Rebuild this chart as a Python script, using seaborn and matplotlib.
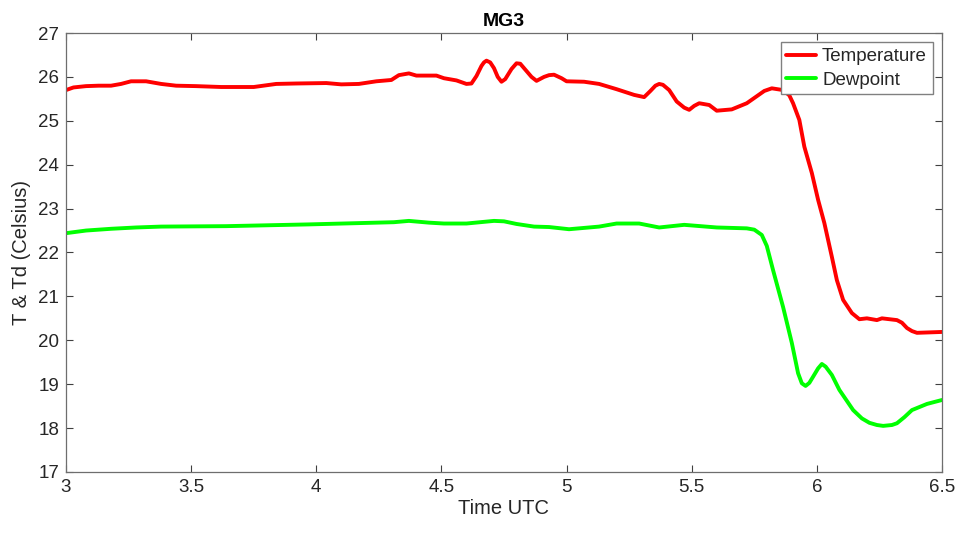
import matplotlib
matplotlib.use("Agg")
import matplotlib.pyplot as plt
import seaborn as sns
import pandas as pd

# Temperature trace (time in hours UTC, degrees Celsius)
temp_time = [3.00, 3.03, 3.08, 3.13, 3.18, 3.22, 3.26, 3.32, 3.38, 3.44, 3.52, 3.62,
             3.70, 3.75, 3.84, 3.92, 4.04, 4.10, 4.17, 4.24, 4.30, 4.33, 4.37, 4.40,
             4.48, 4.51, 4.56, 4.60, 4.62, 4.64, 4.66, 4.67, 4.68, 4.695, 4.71, 4.725,
             4.74, 4.755, 4.78, 4.80, 4.815, 4.83, 4.86, 4.88, 4.91, 4.93, 4.95, 4.98,
             5.00, 5.07, 5.13, 5.20, 5.27, 5.31, 5.335, 5.355, 5.37, 5.385, 5.41, 5.44,
             5.47, 5.49, 5.51, 5.53, 5.57, 5.60, 5.66, 5.72, 5.76, 5.79, 5.82, 5.865,
             5.89, 5.905, 5.93, 5.95, 5.98, 6.005, 6.03, 6.06, 6.08, 6.105, 6.14, 6.17,
             6.20, 6.24, 6.26, 6.32, 6.34, 6.36, 6.38, 6.40, 6.50]
temp_vals = [25.70, 25.76, 25.79, 25.80, 25.80, 25.84, 25.90, 25.90, 25.84, 25.80, 25.79, 25.77,
             25.77, 25.77, 25.84, 25.85, 25.86, 25.83, 25.84, 25.90, 25.93, 26.04, 26.08, 26.03,
             26.03, 25.97, 25.92, 25.84, 25.85, 26.02, 26.25, 26.33, 26.37, 26.33, 26.20, 26.00,
             25.89, 25.95, 26.18, 26.31, 26.30, 26.20, 26.00, 25.91, 26.00, 26.04, 26.05, 25.97,
             25.90, 25.89, 25.84, 25.72, 25.59, 25.54, 25.68, 25.80, 25.84, 25.82, 25.70, 25.44,
             25.30, 25.25, 25.34, 25.40, 25.36, 25.23, 25.26, 25.40, 25.56, 25.68, 25.74, 25.70,
             25.58, 25.40, 25.02, 24.41, 23.81, 23.20, 22.67, 21.90, 21.37, 20.92, 20.62, 20.48,
             20.50, 20.46, 20.50, 20.46, 20.40, 20.28, 20.21, 20.17, 20.19]

# Dewpoint trace
dew_time = [3.00, 3.08, 3.18, 3.28, 3.38, 3.64, 3.97, 4.31, 4.37, 4.45, 4.51, 4.60,
            4.71, 4.75, 4.80, 4.87, 4.93, 5.01, 5.13, 5.20, 5.29, 5.37, 5.47, 5.60,
            5.72, 5.75, 5.78, 5.80, 5.825, 5.865, 5.90, 5.925, 5.94, 5.955, 5.97, 5.985,
            6.005, 6.02, 6.035, 6.06, 6.09, 6.145, 6.18, 6.21, 6.24, 6.265, 6.30, 6.32,
            6.35, 6.38, 6.44, 6.50]
dew_vals = [22.44, 22.50, 22.54, 22.57, 22.59, 22.60, 22.64, 22.69, 22.72, 22.68, 22.66, 22.66,
            22.72, 22.71, 22.65, 22.59, 22.58, 22.53, 22.59, 22.66, 22.66, 22.57, 22.63, 22.57,
            22.55, 22.52, 22.40, 22.15, 21.60, 20.76, 19.94, 19.25, 19.02, 18.96, 19.03, 19.17,
            19.36, 19.46, 19.40, 19.21, 18.87, 18.41, 18.22, 18.12, 18.07, 18.05, 18.07, 18.11,
            18.25, 18.41, 18.55, 18.64]

x_ticks = [3, 3.5, 4, 4.5, 5, 5.5, 6, 6.5]
x_tick_labels = ["3", "3.5", "4", "4.5", "5", "5.5", "6", "6.5"]
y_ticks = list(range(17, 28))

sns.set_style("white")
plt.rcParams["font.family"] = ["Liberation Sans", "DejaVu Sans"]

fig = plt.figure(figsize=(9.62, 5.35), dpi=100)
ax = fig.add_axes([0.0686, 0.1178, 0.9106, 0.8205])

temp_df = pd.DataFrame({"t": temp_time, "v": temp_vals})
dew_df = pd.DataFrame({"t": dew_time, "v": dew_vals})
sns.lineplot(data=temp_df, x="t", y="v", ax=ax, color="#ff0000", linewidth=2.8,
             label="Temperature", sort=False)
sns.lineplot(data=dew_df, x="t", y="v", ax=ax, color="#00ff00", linewidth=2.8,
             label="Dewpoint", sort=False)

ax.set_xlim(3, 6.5)
ax.set_ylim(17, 27)
ax.set_xticks(x_ticks)
ax.set_xticklabels(x_tick_labels)
ax.set_yticks(y_ticks)

ax.tick_params(axis="both", which="both", direction="in", length=5, width=0.8,
               color="#404040", labelsize=13.5, labelcolor="#262626", pad=5,
               top=True, right=True, bottom=True, left=True)
for sp in ax.spines.values():
    sp.set_visible(True)
    sp.set_color("#6e6e6e")
    sp.set_linewidth(0.9)

ax.set_xlabel("Time UTC", fontsize=14.5, color="#262626", labelpad=2)
ax.set_ylabel("T & Td (Celsius)", fontsize=14.5, color="#262626", labelpad=5)
ax.set_title("MG3", fontsize=14, fontweight="bold", color="#000000", pad=5)

leg = ax.legend(loc="upper right", fontsize=13.5, frameon=True, fancybox=False,
                edgecolor="#808080", framealpha=1, borderaxespad=0.5,
                handlelength=1.6, handletextpad=0.3, borderpad=0.3, labelspacing=0.35)
leg.get_frame().set_linewidth(1.0)
for txt in leg.get_texts():
    txt.set_color("#262626")

fig.savefig("out.png", dpi=100)
